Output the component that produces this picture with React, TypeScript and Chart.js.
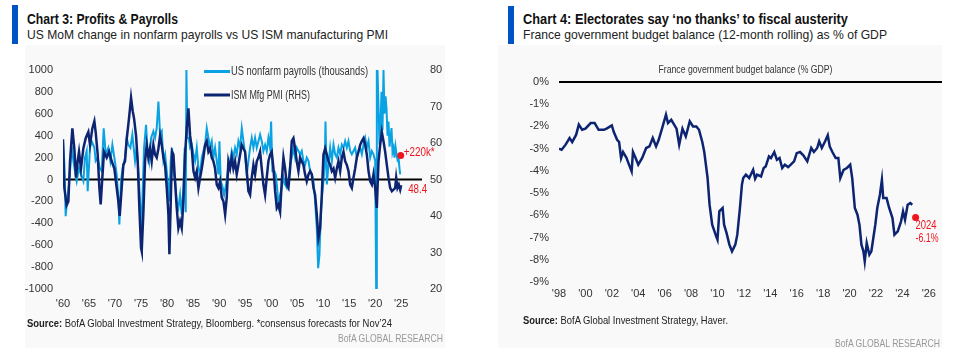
import React, { useEffect, useLayoutEffect, useRef } from 'react';
import { Chart, registerables } from 'chart.js';
Chart.register(...registerables);

const FONT = '"Liberation Sans", Arial, sans-serif';
const LIGHT = '#0aa2e2';
const NAVY = '#0c2471';
const RED = '#f0141e';

// Chart 3: US MoM change in nonfarm payrolls (thousands) [year, value]
const payrolls: [number, number][] = [
  [1960.0, 350], [1960.26, 150], [1960.51, -335], [1960.77, -200], [1961.15, -50], [1961.54, 200], [1961.8, 260], [1961.99, 170],
  [1962.31, 75], [1962.63, -15], [1963.08, 105], [1963.46, 46], [1963.91, -15], [1964.23, 200], [1964.55, 260], [1964.74, -107],
  [1965.19, 290], [1965.51, 350], [1966.03, 290], [1966.28, 170], [1966.67, 200], [1967.05, 105], [1967.44, 76], [1967.82, 468],
  [1968.21, 230], [1968.72, 290], [1969.1, 170], [1969.49, 317], [1969.87, 200], [1970.32, 46], [1970.64, -170], [1970.83, -410],
  [1971.15, -15], [1971.47, 105], [1971.92, 200], [1972.24, 380], [1972.56, 317], [1972.95, 290], [1973.33, 410], [1973.85, 170],
  [1974.17, 290], [1974.49, 76], [1974.81, -200], [1975.13, -500], [1975.32, -100], [1975.58, 290], [1975.96, 500], [1976.22, 290],
  [1976.6, 170], [1976.93, 380], [1977.37, 440], [1977.69, 380], [1978.01, 468], [1978.34, 712], [1978.66, 410], [1978.98, 440],
  [1979.3, 170], [1979.62, 230], [1979.94, 76], [1980.26, -76], [1980.45, -200], [1980.71, 170], [1980.96, 290], [1981.22, 76],
  [1981.54, -15], [1981.86, -200], [1982.18, -260], [1982.5, -140], [1982.82, -320], [1983.14, -76], [1983.4, 290], [1983.59, -300],
  [1983.72, 1000], [1983.91, 380], [1984.17, 380], [1984.43, 290], [1984.75, 317], [1985.07, 230], [1985.39, 170], [1985.71, 290],
  [1986.03, 105], [1986.35, 46], [1986.67, 200], [1986.99, 260], [1987.31, 317], [1987.63, 468], [1987.95, 380], [1988.27, 290],
  [1988.59, 350], [1988.91, 200], [1989.23, 290], [1989.55, 170], [1989.87, 46], [1990.07, 350], [1990.32, -15], [1990.71, -76],
  [1990.96, -140], [1991.35, -46], [1991.6, 46], [1991.79, 120], [1992.11, 170], [1992.43, 260], [1992.75, 200], [1993.07, 290],
  [1993.39, 230], [1993.71, 350], [1994.03, 290], [1994.36, 468], [1994.68, 350], [1995.0, 230], [1995.32, 46], [1995.64, 170],
  [1995.96, 290], [1996.28, 380], [1996.6, 290], [1996.92, 380], [1997.24, 290], [1997.56, 350], [1997.88, 410], [1998.2, 350],
  [1998.52, 260], [1998.84, 317], [1999.16, 260], [1999.48, 380], [1999.8, 290], [2000.0, 530], [2000.25, 76], [2000.64, 76],
  [2000.9, 46], [2001.15, -76], [2001.41, -230], [2001.73, -140], [2002.05, -76], [2002.37, 15], [2002.69, -46], [2003.01, -76],
  [2003.33, -15], [2003.65, 135], [2003.97, 200], [2004.29, 290], [2004.61, 200], [2004.93, 290], [2005.25, 260], [2005.57, 230],
  [2005.89, 260], [2006.21, 170], [2006.53, 135], [2006.85, 200], [2007.18, 170], [2007.5, 76], [2007.82, 46], [2008.14, -15],
  [2008.46, -200], [2008.78, -445], [2009.04, -810], [2009.29, -690], [2009.55, -320], [2009.81, -140], [2010.06, -15], [2010.32, 170],
  [2010.45, 530], [2010.71, -46], [2011.03, 135], [2011.35, 290], [2011.67, 170], [2011.99, 317], [2012.31, 230], [2012.63, 200],
  [2012.95, 290], [2013.27, 230], [2013.59, 317], [2013.91, 290], [2014.23, 350], [2014.55, 290], [2014.87, 350], [2015.19, 260],
  [2015.51, 230], [2015.83, 260], [2016.15, 290], [2016.47, 200], [2016.79, 260], [2017.12, 290], [2017.44, 230], [2017.76, 317],
  [2018.08, 380], [2018.4, 290], [2018.72, 350], [2019.04, 200], [2019.36, 260], [2019.68, 230], [2020.0, 170], [2020.19, -1000],
  [2020.32, 1000], [2020.45, 1000], [2020.64, 660], [2020.83, 317], [2021.03, 520], [2021.22, 800], [2021.41, 450], [2021.6, 1000],
  [2021.79, 600], [2021.99, 760], [2022.18, 650], [2022.37, 400], [2022.56, 530], [2022.76, 300], [2022.95, 380], [2023.14, 470],
  [2023.33, 250], [2023.53, 290], [2023.72, 200], [2023.91, 300], [2024.1, 230], [2024.29, 180], [2024.49, 200], [2024.68, 100],
  [2024.81, 46],
];

// Chart 3: US ISM manufacturing PMI (RHS) [year, value]
const pmi: [number, number][] = [
  [1960.0, 61], [1960.26, 47.7], [1960.7, 43], [1961.03, 44], [1961.35, 55], [1961.8, 64], [1962.18, 58.5], [1962.5, 50.5],
  [1962.82, 55], [1963.08, 57.6], [1963.46, 53], [1963.91, 58.5], [1964.36, 61.3], [1964.87, 63], [1965.19, 59.5], [1965.64, 64],
  [1966.03, 66], [1966.28, 63], [1966.67, 56.8], [1966.99, 47.7], [1967.24, 43.2], [1967.56, 50.5], [1967.88, 57.6], [1968.4, 56],
  [1968.85, 57.6], [1969.36, 55], [1969.87, 53], [1970.32, 47.7], [1970.64, 44], [1970.9, 40], [1971.28, 47.7], [1971.6, 54],
  [1971.92, 55], [1972.24, 61], [1972.69, 66.8], [1973.08, 72.4], [1973.4, 68.7], [1973.65, 66.8], [1974.04, 62], [1974.36, 55],
  [1974.68, 42.1], [1975.0, 31.3], [1975.13, 30.4], [1975.45, 41], [1975.77, 55], [1976.09, 59.5], [1976.41, 56], [1976.73, 58.5],
  [1977.05, 55], [1977.37, 59.5], [1977.69, 56.8], [1978.01, 56], [1978.34, 58.5], [1978.66, 62], [1978.98, 59.5], [1979.3, 56],
  [1979.62, 54], [1979.94, 47.7], [1980.26, 40.4], [1980.45, 29.5], [1980.71, 44], [1980.96, 57.6], [1981.22, 56.8], [1981.54, 49.5],
  [1981.86, 42.2], [1982.18, 36.7], [1982.5, 38.6], [1982.82, 36.7], [1983.14, 44], [1983.46, 56.8], [1983.78, 64], [1984.1, 69.5],
  [1984.43, 62], [1984.75, 58.5], [1985.07, 52.3], [1985.39, 50.5], [1985.71, 52.3], [1986.03, 47.7], [1986.35, 50.5], [1986.67, 53],
  [1986.99, 56], [1987.31, 59.5], [1987.63, 60.5], [1987.95, 57.6], [1988.27, 58.5], [1988.59, 56], [1988.91, 55], [1989.23, 53],
  [1989.55, 48.6], [1989.87, 47.7], [1990.19, 49.5], [1990.51, 45], [1990.84, 44], [1991.16, 40.4], [1991.47, 45], [1991.79, 55],
  [1992.11, 53], [1992.43, 56], [1992.75, 53], [1993.07, 55], [1993.39, 51.4], [1993.71, 54], [1994.03, 56.8], [1994.36, 59.5],
  [1994.68, 58.5], [1995.0, 57.6], [1995.32, 52.3], [1995.64, 46.8], [1995.96, 45.8], [1996.28, 50.5], [1996.6, 54], [1996.92, 51.4],
  [1997.24, 55], [1997.56, 56], [1997.88, 57.6], [1998.2, 53], [1998.52, 48.6], [1998.84, 45.8], [1999.16, 50.5], [1999.48, 55],
  [1999.8, 56.8], [2000.12, 57.6], [2000.45, 53], [2000.77, 46.8], [2001.09, 42.2], [2001.41, 43.1], [2001.73, 41.2], [2002.05, 49.5],
  [2002.37, 56], [2002.69, 53], [2003.01, 48.6], [2003.33, 47.7], [2003.65, 53], [2003.97, 60.5], [2004.29, 61.3], [2004.61, 58.5],
  [2004.93, 55], [2005.25, 52.3], [2005.57, 56], [2005.89, 55], [2006.21, 54], [2006.53, 51.4], [2006.85, 49.5], [2007.18, 51.4],
  [2007.5, 52.3], [2007.82, 51.4], [2008.14, 47.7], [2008.46, 45.8], [2008.78, 40.4], [2009.1, 34], [2009.42, 36.7], [2009.74, 45.8],
  [2010.06, 56.8], [2010.38, 58.5], [2010.71, 56.8], [2011.03, 55], [2011.35, 54], [2011.67, 52.3], [2011.99, 53], [2012.31, 50.5],
  [2012.63, 53], [2012.95, 55], [2013.27, 52.3], [2013.59, 56], [2013.91, 57.6], [2014.23, 55], [2014.55, 54], [2014.87, 52.3],
  [2015.19, 48.6], [2015.51, 47.7], [2015.83, 50.5], [2016.15, 53], [2016.47, 56], [2016.79, 57.6], [2017.12, 59.5], [2017.44, 60.5],
  [2017.76, 61.3], [2018.08, 59.5], [2018.4, 56.8], [2018.72, 52.3], [2019.04, 49.5], [2019.36, 48.6], [2019.68, 51.4], [2020.0, 47.7],
  [2020.32, 42.2], [2020.64, 55], [2020.96, 59.5], [2021.28, 63], [2021.6, 60.5], [2021.92, 57.6], [2022.24, 54], [2022.56, 50.5],
  [2022.88, 47.7], [2023.21, 46.8], [2023.53, 47.2], [2023.85, 47.7], [2024.04, 50.5], [2024.29, 47.7], [2024.55, 48.6], [2024.81, 47.2],
  [2025.0, 48.4],
];

const payrollForecast: [number, number] = [2024.9, 220];
const payrollForecastLabel = '+220k*';
const pmiLatestLabel = '48.4';

// Chart 4: France government budget balance, % of GDP [year, value]
const franceBalance: [number, number][] = [
  [1998.0, -3.0], [1998.2, -3.05], [1998.5, -2.82], [1998.8, -2.52], [1999.0, -2.7], [1999.3, -2.37], [1999.5, -1.92], [1999.75, -2.15],
  [2000.0, -2.1], [2000.4, -1.85], [2000.7, -1.85], [2001.0, -2.15], [2001.4, -2.15], [2001.6, -2.1], [2002.0, -1.95], [2002.15, -2.25],
  [2002.4, -2.6], [2002.55, -2.7], [2002.7, -3.42], [2002.85, -3.15], [2003.1, -3.4], [2003.3, -3.72], [2003.5, -4.02], [2003.6, -3.15],
  [2003.8, -3.42], [2004.0, -3.72], [2004.3, -3.42], [2004.6, -2.97], [2004.85, -2.9], [2005.1, -2.52], [2005.35, -2.9], [2005.55, -2.6],
  [2005.8, -2.1], [2006.1, -1.47], [2006.25, -1.85], [2006.5, -1.7], [2006.9, -2.1], [2007.1, -2.82], [2007.35, -2.1], [2007.6, -2.45],
  [2007.9, -1.77], [2008.15, -2.0], [2008.4, -2.0], [2008.6, -2.15], [2008.85, -2.7], [2009.0, -3.15], [2009.25, -4.32], [2009.4, -5.52],
  [2009.6, -6.42], [2009.9, -6.95], [2010.0, -7.1], [2010.14, -5.82], [2010.39, -5.67], [2010.5, -6.42], [2010.69, -6.8], [2010.9, -7.32],
  [2011.1, -7.62], [2011.35, -7.32], [2011.5, -6.87], [2011.7, -5.67], [2011.85, -4.62], [2011.95, -4.32], [2012.15, -4.17], [2012.4, -4.32],
  [2012.7, -3.95], [2012.85, -4.35], [2013.0, -4.17], [2013.3, -4.25], [2013.5, -3.87], [2013.65, -3.8], [2013.9, -3.35], [2014.05, -3.42],
  [2014.3, -3.15], [2014.5, -3.5], [2014.7, -3.42], [2014.9, -3.87], [2015.1, -3.72], [2015.35, -3.83], [2015.55, -3.72], [2015.8, -3.57],
  [2016.0, -3.2], [2016.25, -3.15], [2016.5, -3.3], [2016.8, -3.57], [2017.1, -2.97], [2017.3, -3.15], [2017.55, -2.97], [2017.7, -2.67],
  [2017.9, -2.97], [2018.15, -2.67], [2018.35, -2.4], [2018.5, -2.9], [2018.7, -3.15], [2018.95, -3.42], [2019.15, -3.42], [2019.3, -4.32],
  [2019.55, -3.95], [2019.8, -3.87], [2020.05, -3.72], [2020.2, -4.32], [2020.4, -5.67], [2020.6, -5.97], [2020.75, -6.42], [2020.9, -7.32],
  [2021.05, -7.62], [2021.15, -8.07], [2021.3, -7.25], [2021.5, -7.77], [2021.65, -7.62], [2021.8, -7.02], [2021.95, -6.42], [2022.1, -5.67],
  [2022.3, -5.07], [2022.45, -4.4], [2022.55, -5.22], [2022.8, -5.22], [2023.0, -5.67], [2023.25, -6.12], [2023.4, -6.87], [2023.65, -6.72],
  [2023.9, -6.27], [2024.05, -5.82], [2024.2, -6.2], [2024.4, -5.52], [2024.6, -5.45], [2024.75, -5.52],
];
const franceForecast: [number, number] = [2025.0, -6.1];
const franceForecastLabels = ['2024', '-6.1%'];

const toXY = (arr: [number, number][]) => arr.map(([x, y]) => ({ x, y }));
const yearLabel = (v: number) => "'" + String(Math.round(v)).slice(2);

// draw canvas text squeezed horizontally to a target width (narrow house font look)
function fitText(ctx: CanvasRenderingContext2D, text: string, x: number, y: number, width: number) {
  const w = ctx.measureText(text).width || 1;
  ctx.save();
  ctx.translate(x, y);
  ctx.scale(width / w, 1);
  ctx.fillText(text, 0, 0);
  ctx.restore();
}

function PayrollChart() {
  const ref = useRef<HTMLCanvasElement>(null);
  useEffect(() => {
    const overlay = {
      id: 'overlay3',
      beforeDatasetsDraw(chart: any) {
        const { ctx, chartArea, scales } = chart;
        const y0 = scales.y.getPixelForValue(0);
        ctx.save();
        ctx.strokeStyle = '#000';
        ctx.lineWidth = 2;
        ctx.beginPath();
        ctx.moveTo(chartArea.left, y0);
        ctx.lineTo(chartArea.right, y0);
        ctx.stroke();
        ctx.restore();
      },
      afterDatasetsDraw(chart: any) {
        const { ctx, chartArea, scales } = chart;
        ctx.save();
        ctx.font = `12px ${FONT}`;
        ctx.textBaseline = 'middle';
        ctx.textAlign = 'left';
        const lx = chartArea.left + 141;
        const items: [string, string, number, number][] = [
          [LIGHT, 'US nonfarm payrolls (thousands)', chartArea.top + 1.5, 137],
          [NAVY, 'ISM Mfg PMI (RHS)', chartArea.top + 25, 79],
        ];
        items.forEach(([c, t, y, w]) => {
          ctx.strokeStyle = c;
          ctx.lineWidth = 3;
          ctx.beginPath();
          ctx.moveTo(lx, y);
          ctx.lineTo(lx + 26, y);
          ctx.stroke();
          ctx.fillStyle = '#333';
          fitText(ctx, t, lx + 27, y + 0.5, w);
        });
        ctx.fillStyle = RED;
        ctx.font = `12.5px ${FONT}`;
        const px = scales.x.getPixelForValue(payrollForecast[0]);
        const py = scales.y.getPixelForValue(payrollForecast[1]);
        fitText(ctx, payrollForecastLabel, px + 3, py - 3, 31);
        const last = pmi[pmi.length - 1];
        const qx = scales.x.getPixelForValue(last[0]);
        const qy = scales.y2.getPixelForValue(last[1]);
        fitText(ctx, pmiLatestLabel, qx + 7, qy + 4, 19);
        ctx.restore();
      },
    };
    const tickFont = { family: FONT, size: 11 };
    const chart = new Chart(ref.current!, {
      type: 'line',
      data: {
        datasets: [
          { data: [{ x: payrollForecast[0], y: payrollForecast[1] }], yAxisID: 'y', showLine: false, pointRadius: 3.5, pointBackgroundColor: RED, pointBorderWidth: 0, order: 0 } as any,
          { data: toXY(pmi), yAxisID: 'y2', borderColor: NAVY, borderWidth: 2.5, pointRadius: 0, tension: 0, order: 1 },
          { data: toXY(payrolls), yAxisID: 'y', borderColor: LIGHT, borderWidth: 2, pointRadius: 0, tension: 0, order: 2 },
        ],
      },
      options: {
        responsive: false,
        animation: false,
        layout: { padding: { top: 18, left: 0, right: 0, bottom: 0 } },
        plugins: { legend: { display: false }, tooltip: { enabled: false } },
        scales: {
          x: {
            type: 'linear', min: 1960, max: 2029,
            grid: { display: false, drawTicks: false }, border: { display: false },
            ticks: { stepSize: 5, includeBounds: false, autoSkip: false, maxRotation: 0, padding: 8, color: '#333', font: tickFont,
              callback: (v: any) => (v <= 2025 ? yearLabel(v) : '') },
            afterFit: (s: any) => { s.height = 33; },
          },
          y: {
            position: 'left', min: -1000, max: 1000,
            grid: { display: false, drawTicks: false }, border: { display: false },
            ticks: { stepSize: 200, padding: 10, color: '#333', font: tickFont, callback: (v: any) => String(v) },
            afterFit: (s: any) => { s.width = 63; },
          },
          y2: {
            position: 'right', min: 20, max: 80,
            grid: { display: false, drawTicks: false }, border: { display: false },
            ticks: { stepSize: 10, padding: 8, color: '#333', font: tickFont, callback: (v: any) => String(v) },
            afterFit: (s: any) => { s.width = 28; },
          },
        },
      } as any,
      plugins: [overlay],
    });
    return () => chart.destroy();
  }, []);
  return <canvas ref={ref} width={450} height={270} style={{ position: 'absolute', left: 0, top: 52, width: 450, height: 270 }} />;
}

function FranceChart() {
  const ref = useRef<HTMLCanvasElement>(null);
  useEffect(() => {
    const overlay = {
      id: 'overlay4',
      beforeDatasetsDraw(chart: any) {
        const { ctx, chartArea, scales } = chart;
        const y0 = scales.y.getPixelForValue(0);
        ctx.save();
        ctx.strokeStyle = '#000';
        ctx.lineWidth = 2;
        ctx.beginPath();
        ctx.moveTo(chartArea.left, y0);
        ctx.lineTo(chartArea.right, y0);
        ctx.stroke();
        ctx.fillStyle = '#333';
        ctx.font = `11.5px ${FONT}`;
        ctx.textAlign = 'center';
        ctx.textBaseline = 'middle';
        fitText(ctx, 'France government budget balance (% GDP)', (chartArea.left + chartArea.right) / 2 - 5, chartArea.top - 12, 174);
        ctx.restore();
      },
      afterDatasetsDraw(chart: any) {
        const { ctx, scales } = chart;
        const px = scales.x.getPixelForValue(franceForecast[0]);
        const py = scales.y.getPixelForValue(franceForecast[1]);
        ctx.save();
        ctx.fillStyle = RED;
        ctx.font = `12px ${FONT}`;
        ctx.textAlign = 'left';
        ctx.textBaseline = 'middle';
        fitText(ctx, franceForecastLabels[0], px, py + 8, 21);
        fitText(ctx, franceForecastLabels[1], px, py + 21, 23);
        ctx.restore();
      },
    };
    const tickFont = { family: FONT, size: 11 };
    const chart = new Chart(ref.current!, {
      type: 'line',
      data: {
        datasets: [
          { data: [{ x: franceForecast[0], y: franceForecast[1] }], showLine: false, pointRadius: 3.5, pointBackgroundColor: RED, pointBorderWidth: 0, order: 0 } as any,
          { data: toXY(franceBalance), borderColor: NAVY, borderWidth: 2.5, pointRadius: 0, tension: 0, order: 1 },
        ],
      },
      options: {
        responsive: false,
        animation: false,
        layout: { padding: { top: 30, left: 0, right: 18, bottom: 0 } },
        plugins: { legend: { display: false }, tooltip: { enabled: false } },
        scales: {
          x: {
            type: 'linear', min: 1998, max: 2027,
            grid: { display: false, drawTicks: false }, border: { display: false },
            ticks: { stepSize: 2, includeBounds: false, autoSkip: false, maxRotation: 0, padding: 5, color: '#333', font: tickFont,
              callback: (v: any) => (v <= 2026 ? yearLabel(v) : '') },
            afterFit: (s: any) => { s.height = 30; },
          },
          y: {
            position: 'left', min: -9, max: 0,
            grid: { display: false, drawTicks: false }, border: { display: false },
            ticks: { stepSize: 1, padding: 10, color: '#333', font: tickFont, callback: (v: any) => `${v}%` },
            afterFit: (s: any) => { s.width = 79; },
          },
        },
      } as any,
      plugins: [overlay],
    });
    return () => chart.destroy();
  }, []);
  return <canvas ref={ref} width={480} height={260} style={{ position: 'absolute', left: 480, top: 52, width: 480, height: 260 }} />;
}

// HTML text squeezed to the reference width
function FitText({ left, top, width, style, children }: { left: number; top: number; width: number; style?: React.CSSProperties; children: React.ReactNode }) {
  const ref = useRef<HTMLSpanElement>(null);
  useLayoutEffect(() => {
    const el = ref.current!;
    el.style.transform = 'none';
    const w = el.getBoundingClientRect().width;
    if (w > 0) el.style.transform = `scaleX(${width / w})`;
  }, [width]);
  return (
    <span ref={ref} style={{ position: 'absolute', left, top, whiteSpace: 'nowrap', transformOrigin: 'left center', fontFamily: FONT, ...style }}>
      {children}
    </span>
  );
}

const box = (o: React.CSSProperties): React.CSSProperties => ({ position: 'absolute', ...o });

export default function App() {
  return (
    <div style={{ position: 'absolute', left: 0, top: 0, width: 960, height: 352, background: '#fff', overflow: 'hidden' }}>
      <div style={box({ left: 25, top: 45, width: 420, height: 303, background: '#f9f9f9' })} />
      <div style={box({ left: 498, top: 45, width: 444, height: 303, background: '#f9f9f9' })} />

      <div style={box({ left: 12, top: 5, width: 6, height: 39, background: '#0053c4' })} />
      <FitText left={27} top={10} width={151} style={{ fontSize: 14.5, fontWeight: 700, lineHeight: '18px', color: '#111' }}>Chart 3: Profits &amp; Payrolls</FitText>
      <FitText left={27} top={27} width={361} style={{ fontSize: 13.5, lineHeight: '16px', color: '#222' }}>US MoM change in nonfarm payrolls vs US ISM manufacturing PMI</FitText>

      <div style={box({ left: 508, top: 6, width: 6, height: 38, background: '#0053c4' })} />
      <FitText left={523} top={10} width={325} style={{ fontSize: 14.5, fontWeight: 700, lineHeight: '18px', color: '#111' }}>Chart 4: Electorates say ‘no thanks’ to fiscal austerity</FitText>
      <FitText left={523} top={27} width={364} style={{ fontSize: 13.5, lineHeight: '16px', color: '#222' }}>France government budget balance (12-month rolling) as % of GDP</FitText>

      <PayrollChart />
      <FranceChart />

      <FitText left={27} top={316} width={365} style={{ fontSize: 11.5, lineHeight: '14px', color: '#222' }}><b>Source:</b> BofA Global Investment Strategy, Bloomberg. *consensus forecasts for Nov’24</FitText>
      <FitText left={338} top={331} width={105} style={{ fontSize: 11.5, lineHeight: '14px', color: '#999' }}>BofA GLOBAL RESEARCH</FitText>
      <FitText left={523} top={313} width={205} style={{ fontSize: 11.5, lineHeight: '14px', color: '#222' }}><b>Source:</b> BofA Global Investment Strategy, Haver.</FitText>
      <FitText left={835} top={336} width={105} style={{ fontSize: 11.5, lineHeight: '14px', color: '#999' }}>BofA GLOBAL RESEARCH</FitText>
    </div>
  );
}
